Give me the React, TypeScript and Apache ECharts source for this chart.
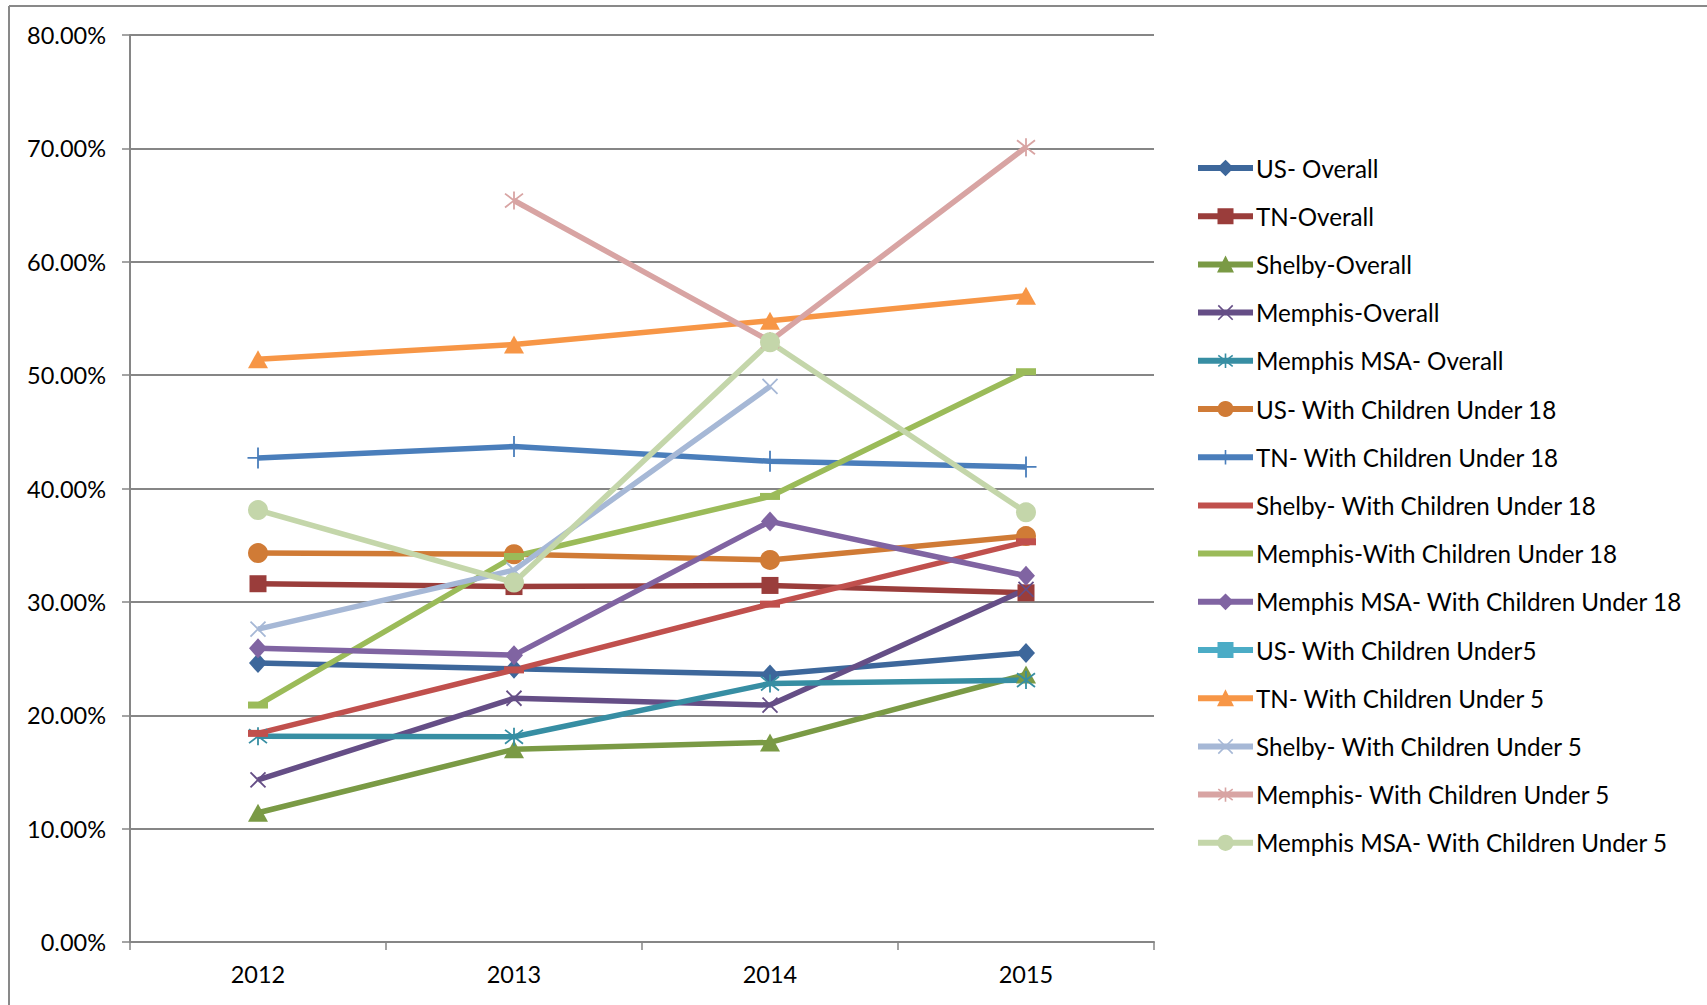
import React, { useEffect, useRef } from "react";
import * as echarts from "echarts";

const years = ["2012", "2013", "2014", "2015"];

const seriesNames = [
  "US- Overall",
  "TN-Overall",
  "Shelby-Overall",
  "Memphis-Overall",
  "Memphis MSA- Overall",
  "US- With Children Under 18",
  "TN- With Children Under 18",
  "Shelby- With Children Under 18",
  "Memphis-With Children Under 18",
  "Memphis MSA- With Children Under 18",
  "US- With Children Under5",
  "TN- With Children Under 5",
  "Shelby- With Children Under 5",
  "Memphis- With Children Under 5",
  "Memphis MSA- With Children Under 5",
];

const usOverall = [24.6, 24.1, 23.6, 25.5];
const tnOverall = [31.6, 31.35, 31.45, 30.8];
const shelbyOverall = [11.4, 17.0, 17.6, 23.6];
const memphisOverall = [14.3, 21.5, 20.9, 31.1];
const msaOverall = [18.15, 18.1, 22.8, 23.1];
const usUnder18 = [34.3, 34.2, 33.7, 35.8];
const tnUnder18 = [42.7, 43.7, 42.4, 41.9];
const shelbyUnder18 = [18.4, 24.0, 29.8, 35.3];
const memphisUnder18 = [20.9, 34.0, 39.3, 50.3];
const msaUnder18 = [25.9, 25.3, 37.1, 32.3];
const usUnder5 = [null, null, null, null];
const tnUnder5 = [51.4, 52.7, 54.8, 57.0];
const shelbyUnder5 = [27.6, 32.8, 49.0, null];
const memphisUnder5 = [null, 65.4, 53.0, 70.1];
const msaUnder5 = [38.1, 31.7, 52.9, 37.9];

const allValues = [
  usOverall, tnOverall, shelbyOverall, memphisOverall, msaOverall,
  usUnder18, tnUnder18, shelbyUnder18, memphisUnder18, msaUnder18,
  usUnder5, tnUnder5, shelbyUnder5, memphisUnder5, msaUnder5,
];

const colors = [
  "#3D679B", "#9A3D3B", "#7A9A45", "#654E86", "#378EA3",
  "#D07B36", "#4A7EBB", "#C0504D", "#9BBB59", "#8064A2",
  "#4BACC6", "#F79646", "#A6B8D6", "#D8A4A3", "#C4D6AA",
];

const X_PATH = "path://M0,0L10,10M10,0L0,10";
const STAR_PATH = "path://M0,0L10,10M10,0L0,10M5,-1.5L5,11.5";
const PLUS_PATH = "path://M6,0L6,12M1,6L11,6";
const LINE_ICON = "path://M0,0h55v6h-55z";

type Mk = { symbol: string; size: any; stroke: boolean; legendLine?: boolean };
const markers: Mk[] = [
  { symbol: "diamond", size: [18, 20], stroke: false },
  { symbol: "rect", size: 17, stroke: false },
  { symbol: "triangle", size: [20, 18], stroke: false },
  { symbol: X_PATH, size: 15, stroke: true },
  { symbol: STAR_PATH, size: 18, stroke: true },
  { symbol: "circle", size: 20, stroke: false },
  { symbol: PLUS_PATH, size: 21, stroke: true },
  { symbol: "rect", size: [20, 7], stroke: false, legendLine: true },
  { symbol: "rect", size: [20, 7], stroke: false, legendLine: true },
  { symbol: "diamond", size: [18, 20], stroke: false },
  { symbol: "rect", size: 17, stroke: false },
  { symbol: "triangle", size: [20, 18], stroke: false },
  { symbol: X_PATH, size: 15, stroke: true },
  { symbol: STAR_PATH, size: 18, stroke: true },
  { symbol: "circle", size: 20, stroke: false },
];

const FONT = "Lato";

export default function App() {
  const ref = useRef<HTMLDivElement>(null);
  useEffect(() => {
    if (!ref.current) return;
    const chart = echarts.init(ref.current, undefined, { renderer: "svg" });
    const series = seriesNames.map((name, i) => ({
      name,
      type: "line",
      data: allValues[i],
      symbol: markers[i].symbol,
      symbolSize: markers[i].size,
      showSymbol: true,
      lineStyle: { color: colors[i], width: 5.5 },
      itemStyle: {
        color: colors[i],
        borderColor: colors[i],
        borderWidth: markers[i].stroke ? 1.8 : 0,
        opacity: 1,
      },
      emphasis: { disabled: true },
    }));
    chart.setOption({
      animation: false,
      backgroundColor: "#ffffff",
      grid: { left: 130, top: 35, width: 1024, height: 907, containLabel: false },
      xAxis: {
        type: "category",
        data: years,
        boundaryGap: true,
        axisLine: { lineStyle: { color: "#868686", width: 2 } },
        axisTick: { show: true, length: 8, lineStyle: { color: "#868686", width: 1.5 } },
        axisLabel: { color: "#000", fontFamily: FONT, fontSize: 23.5, margin: 20 },
        splitLine: { show: false },
      },
      yAxis: {
        type: "value",
        min: 0,
        max: 80,
        interval: 10,
        axisLine: { show: true, lineStyle: { color: "#868686", width: 2 } },
        axisTick: { show: true, length: 8, lineStyle: { color: "#868686", width: 1.5 } },
        axisLabel: {
          color: "#000",
          fontFamily: FONT,
          fontSize: 23.5,
          margin: 24,
          formatter: (v: number) => v.toFixed(2) + "%",
        },
        splitLine: { show: true, lineStyle: { color: "#868686", width: 2 } },
      },
      legend: {
        orient: "vertical",
        left: 1195,
        top: 156,
        padding: 0,
        itemWidth: 55,
        itemHeight: 18,
        itemGap: 24.2,
        selectedMode: false,
        textStyle: { color: "#000", fontFamily: FONT, fontSize: 24.2, padding: [0, 0, 0, -2] },
        lineStyle: { width: 6 },
        itemStyle: { borderWidth: 1.6 },
        data: seriesNames.map((name, i) =>
          markers[i].legendLine
            ? { name, icon: LINE_ICON, itemStyle: { borderWidth: 0 } }
            : { name }
        ),
      },
      graphic: [
        {
          type: "line",
          shape: { x1: 9, y1: 6, x2: 9, y2: 1005 },
          style: { stroke: "#898989", lineWidth: 2 },
          silent: true,
        },
        {
          type: "line",
          shape: { x1: 9, y1: 6, x2: 1707, y2: 6 },
          style: { stroke: "#898989", lineWidth: 2 },
          silent: true,
        },
      ],
      series,
    });
    return () => chart.dispose();
  }, []);
  return (
    <div
      ref={ref}
      style={{ position: "fixed", left: 0, top: 0, width: 1707, height: 1005, background: "#fff" }}
    />
  );
}
